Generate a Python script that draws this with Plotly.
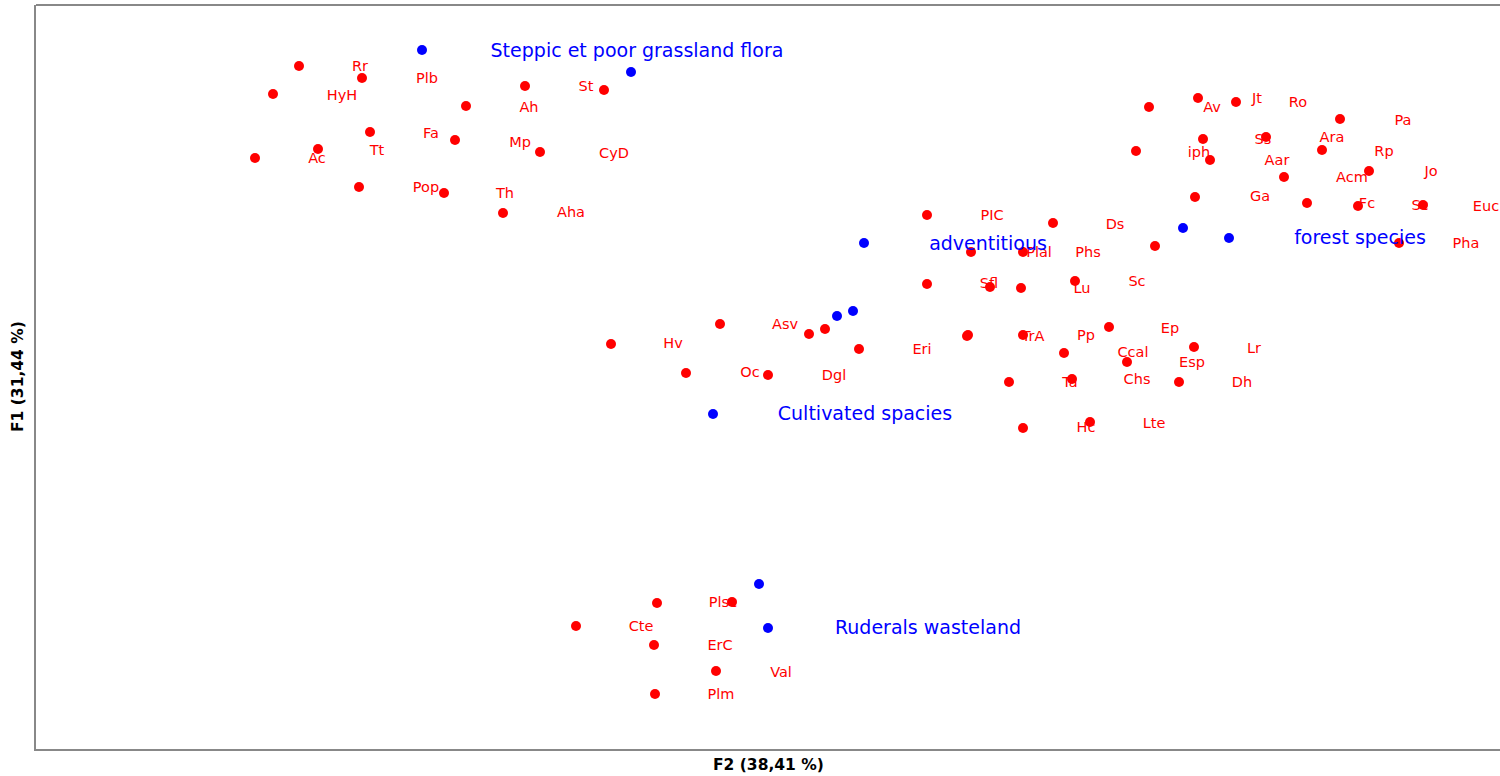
import plotly.graph_objects as go

# Observation points (F2, F1) in plot units
obs_x = [299, 362, 273, 466, 525, 604, 370, 455, 318, 255, 540, 359, 444, 503,
         1149, 1198, 1236, 1340, 1266, 1203, 1136, 1210, 1322, 1369, 1284, 1195, 1307, 1358, 1423, 1155, 1399,
         927, 1053, 971, 1023, 927, 990, 1021, 1075,
         611, 720, 809, 825, 859, 967, 686, 768,
         968, 1023, 1109, 1064, 1194, 1127, 1009, 1072, 1179, 1023, 1090,
         657, 732, 576, 654, 716, 655]
obs_y = [66, 78, 94, 106, 86, 90, 132, 140, 149, 158, 152, 187, 193, 213,
         107, 98, 102, 119, 137, 139, 151, 160, 150, 171, 177, 197, 203, 206, 205, 246, 243,
         215, 223, 252, 252, 284, 287, 288, 281,
         344, 324, 334, 329, 349, 336, 373, 375,
         335, 335, 327, 353, 347, 362, 382, 379, 382, 428, 422,
         603, 602, 626, 645, 671, 694]

# Observation labels
lab_text = ["Rr", "Plb", "HyH", "Ah", "St", "Fa", "Tt", "Ac", "Mp", "CyD", "Pop", "Th", "Aha",
            "Av", "Jt", "Ro", "Pa", "Ss", "Ara", "iph", "Rp", "Aar", "Jo", "Acm", "Ga", "Fc", "Sc", "Euc", "Ds", "Pha",
            "PIC", "Plal", "Phs", "Sfl", "Lu", "Sc",
            "Hv", "Asv", "Eri", "Oc", "Dgl",
            "TrA", "Pp", "Ep", "Ccal", "Lr", "Esp", "Ta", "Chs", "Dh", "Hc", "Lte",
            "Plsc", "Cte", "ErC", "Val", "Plm"]
lab_x = [360, 427, 342, 529, 586, 431, 377, 317, 520, 614, 426, 505, 571,
         1212, 1257, 1298, 1403, 1263, 1332, 1199, 1384, 1277, 1431, 1352, 1260, 1367, 1420, 1486, 1115, 1466,
         992, 1039, 1088, 989, 1082, 1137,
         673, 785, 922, 750, 834,
         1033, 1086, 1170, 1133, 1254, 1192, 1070, 1137, 1242, 1086, 1154,
         723, 641, 720, 781, 721]
lab_y = [67, 79, 96, 108, 87, 134, 151, 159, 143, 154, 188, 194, 213,
         108, 99, 103, 121, 140, 138, 153, 152, 161, 172, 178, 197, 204, 206, 207, 225, 244,
         216, 253, 253, 284, 289, 282,
         344, 325, 350, 373, 376,
         337, 336, 329, 353, 349, 363, 383, 380, 383, 428, 424,
         603, 627, 646, 673, 695]

# Supplementary variables (group centroids)
sup_x = [422, 631, 864, 1183, 1229, 837, 853, 713, 759, 768]
sup_y = [50, 72, 243, 228, 238, 316, 311, 414, 584, 628]
grp_text = ["Steppic et poor grassland flora", "adventitious", "forest species",
            "Cultivated spacies", "Ruderals wasteland"]
grp_x = [637, 988, 1360, 865, 928]
grp_y = [52, 245, 239, 415, 629]

FONT = "DejaVu Sans"

fig = go.Figure()
fig.add_trace(go.Scatter(x=obs_x, y=obs_y, mode="markers",
                         marker=dict(color="#FF0000", size=10), hoverinfo="skip"))
fig.add_trace(go.Scatter(x=lab_x, y=lab_y, mode="text", text=lab_text,
                         textposition="middle center",
                         textfont=dict(color="#FF0000", size=14.5, family=FONT), hoverinfo="skip"))
fig.add_trace(go.Scatter(x=sup_x, y=sup_y, mode="markers",
                         marker=dict(color="#0000FF", size=10), hoverinfo="skip"))
fig.add_trace(go.Scatter(x=grp_x, y=grp_y, mode="text", text=grp_text,
                         textposition="middle center",
                         textfont=dict(color="#0000FF", size=19, family=FONT), hoverinfo="skip"))

fig.update_layout(
    width=1500, height=776,
    margin=dict(l=36, r=0, t=5, b=27),
    paper_bgcolor="white", plot_bgcolor="white",
    showlegend=False,
    xaxis=dict(range=[36, 1500], showgrid=False, zeroline=False, showticklabels=False,
               ticks="", showline=True, linecolor="#888888", linewidth=2),
    yaxis=dict(range=[749, 5], showgrid=False, zeroline=False, showticklabels=False,
               ticks="", showline=True, linecolor="#888888", linewidth=2),
    shapes=[dict(type="line", xref="paper", yref="paper", x0=0, x1=1, y0=1, y1=1,
                 line=dict(color="#888888", width=2))],
    annotations=[
        dict(text="<b>F2 (38,41 %)</b>", xref="paper", yref="paper", x=0.5, y=0,
             xanchor="center", yanchor="middle", yshift=-16, showarrow=False,
             font=dict(size=15.5, color="black", family="DejaVu Sans")),
        dict(text="<b>F1 (31,44 %)</b>", xref="paper", yref="paper", x=0, y=0.5,
             xanchor="center", yanchor="middle", xshift=-18, textangle=-90, showarrow=False,
             font=dict(size=15.5, color="black", family="DejaVu Sans")),
    ],
)

fig.write_html("out.html", config={"displayModeBar": False},
               post_script="document.body.style.margin='0px';")
